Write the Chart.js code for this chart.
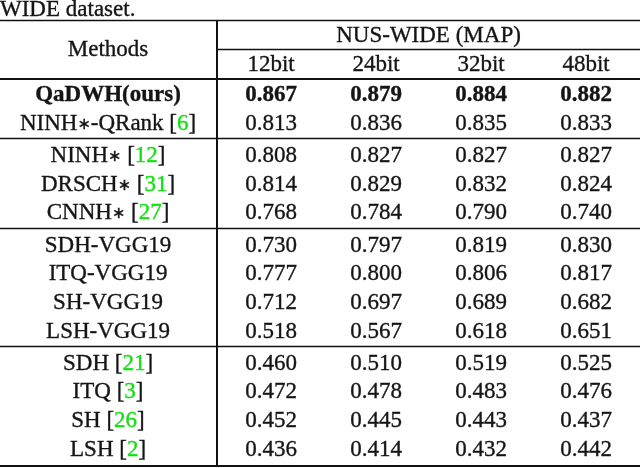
<!DOCTYPE html>
<html>
<head>
<meta charset="utf-8">
<script src="https://cdn.jsdelivr.net/npm/chart.js@4/dist/chart.umd.min.js"></script>
<style>
  html, body { margin: 0; padding: 0; background: #fff; }
  #wrap { width: 640px; height: 468px; position: relative; }
</style>
</head>
<body>
<div id="wrap"><canvas id="tbl"></canvas></div>
<script>
// ===== DATA =====
const caption = "WIDE dataset.";
const datasetTitle = "NUS-WIDE (MAP)";
const methodsHeader = "Methods";
const bits = ["12bit", "24bit", "32bit", "48bit"];

const methods = ["QaDWH", "NINH\u2217-QRank", "NINH\u2217", "DRSCH\u2217", "CNNH\u2217",
  "SDH-VGG19", "ITQ-VGG19", "SH-VGG19", "LSH-VGG19", "SDH", "ITQ", "SH", "LSH"];
const refs = [null, 6, 12, 31, 27, null, null, null, null, 21, 3, 26, 2];
const groups = [0, 0, 1, 1, 1, 2, 2, 2, 2, 3, 3, 3, 3];

const map12 = [0.867, 0.813, 0.808, 0.814, 0.768, 0.730, 0.777, 0.712, 0.518, 0.460, 0.472, 0.452, 0.436];
const map24 = [0.879, 0.836, 0.827, 0.829, 0.784, 0.797, 0.800, 0.697, 0.567, 0.510, 0.478, 0.445, 0.414];
const map32 = [0.884, 0.835, 0.827, 0.832, 0.790, 0.819, 0.806, 0.689, 0.618, 0.519, 0.483, 0.443, 0.432];
const map48 = [0.882, 0.833, 0.827, 0.824, 0.740, 0.830, 0.817, 0.682, 0.651, 0.525, 0.476, 0.437, 0.442];

// ===== LAYOUT (in scale units) =====
const GROUP_GAP = 0.122;
const HEAD1 = -2.07, HEAD2 = -1.06;
const METHODS_X = -1.552, DIVIDER_X = -0.514;
const FONT = "23px 'Liberation Serif', 'Times New Roman', serif";
const BOLD = "bold 23px 'Liberation Serif', 'Times New Roman', serif";
const AST = "16px 'DejaVu Sans', sans-serif";
const INK = "#151515";
const GREEN = "#12e012";

function rowPos(i) { return i + GROUP_GAP * groups[i]; }

const series = [map12, map24, map32, map48];
const datasets = series.map((vals, c) => ({
  label: bits[c],
  data: vals.map((v, i) => ({ x: c, y: rowPos(i), v: v })),
  pointRadius: 0,
  pointHoverRadius: 0
}));

// split "∗" out so it can be drawn small, like the math asterisk
function plain(text, font, color) {
  const out = [];
  text.split("\u2217").forEach((s, k) => {
    if (k > 0) out.push({ text: "\u2217", font: AST, color: color, dy: -1 });
    if (s) out.push({ text: s, font: font, color: color });
  });
  return out;
}

function drawParts(ctx, parts, cx, y, left) {
  let total = 0;
  parts.forEach(p => { ctx.font = p.font; total += ctx.measureText(p.text).width; });
  let x = left ? cx : cx - total / 2;
  parts.forEach(p => {
    ctx.font = p.font;
    ctx.fillStyle = p.color;
    ctx.strokeStyle = p.color;
    ctx.lineWidth = 0.35;
    ctx.fillText(p.text, x, y + (p.dy || 0));
    ctx.strokeText(p.text, x, y + (p.dy || 0));
    x += ctx.measureText(p.text).width;
  });
}

const tablePlugin = {
  id: "tableText",
  afterDatasetsDraw(chart) {
    const ctx = chart.ctx;
    const xs = chart.scales.x, ys = chart.scales.y;
    const W = chart.width;
    const base = 7.5;
    ctx.save();
    ctx.textBaseline = "alphabetic";
    ctx.textAlign = "left";

    // caption
    drawParts(ctx, plain(caption, FONT, INK), 0, 16, true);

    // rules
    ctx.strokeStyle = "#111";
    const hline = (v, x0, w) => {
      const y = Math.round(ys.getPixelForValue(v)) + (w % 2 ? 0.5 : 0);
      ctx.lineWidth = w;
      ctx.beginPath(); ctx.moveTo(x0, y); ctx.lineTo(W, y); ctx.stroke();
    };
    ctx.strokeStyle = "#111";
    const topV = HEAD1 - 0.49;
    const last = methods.length - 1;
    const botV = rowPos(last) + 0.61;
    hline(topV, 0, 1.5);
    hline((HEAD1 + HEAD2) / 2, xs.getPixelForValue(DIVIDER_X), 1.5);
    hline(-0.5, 0, 2);
    for (let i = 1; i < methods.length; i++) {
      if (groups[i] !== groups[i - 1]) hline((rowPos(i) + rowPos(i - 1)) / 2, 0, 1.5);
    }
    hline(botV, 0, 2);
    const vx = Math.round(xs.getPixelForValue(DIVIDER_X));
    ctx.lineWidth = 2;
    ctx.beginPath();
    ctx.moveTo(vx, ys.getPixelForValue(topV));
    ctx.lineTo(vx, ys.getPixelForValue(botV));
    ctx.stroke();

    // headers
    drawParts(ctx, plain(methodsHeader, FONT, INK),
      xs.getPixelForValue(METHODS_X), ys.getPixelForValue((HEAD1 + HEAD2) / 2) + base);
    drawParts(ctx, plain(datasetTitle, FONT, INK),
      xs.getPixelForValue(1.5), ys.getPixelForValue(HEAD1) + base);
    bits.forEach((b, c) => {
      drawParts(ctx, plain(b, FONT, INK), xs.getPixelForValue(c), ys.getPixelForValue(HEAD2) + base);
    });

    // method names
    methods.forEach((m, i) => {
      const y = ys.getPixelForValue(rowPos(i)) + base;
      let parts;
      if (i === 0) {
        parts = plain(m + "(ours)", BOLD, INK);
      } else if (refs[i] !== null) {
        parts = plain(m + " [", FONT, INK)
          .concat([{ text: String(refs[i]), font: FONT, color: GREEN }])
          .concat(plain("]", FONT, INK));
      } else {
        parts = plain(m, FONT, INK);
      }
      drawParts(ctx, parts, xs.getPixelForValue(METHODS_X), y);
    });

    // values, placed at the points of each dataset
    chart.data.datasets.forEach((ds, d) => {
      const meta = chart.getDatasetMeta(d);
      meta.data.forEach((el, i) => {
        const v = ds.data[i].v;
        drawParts(ctx, plain(v.toFixed(3), i === 0 ? BOLD : FONT, INK), el.x, el.y + base);
      });
    });
    ctx.restore();
  }
};

new Chart(document.getElementById("tbl"), {
  type: "scatter",
  data: { datasets: datasets },
  options: {
    responsive: true,
    maintainAspectRatio: false,
    animation: false,
    layout: { padding: 0 },
    plugins: { legend: { display: false }, tooltip: { enabled: false }, title: { display: false } },
    scales: {
      x: { type: "linear", min: -2.581, max: 3.514, display: false },
      y: { type: "linear", min: -3.258, max: 13.049, reverse: true, display: false }
    }
  },
  plugins: [tablePlugin]
});
</script>
</body>
</html>
